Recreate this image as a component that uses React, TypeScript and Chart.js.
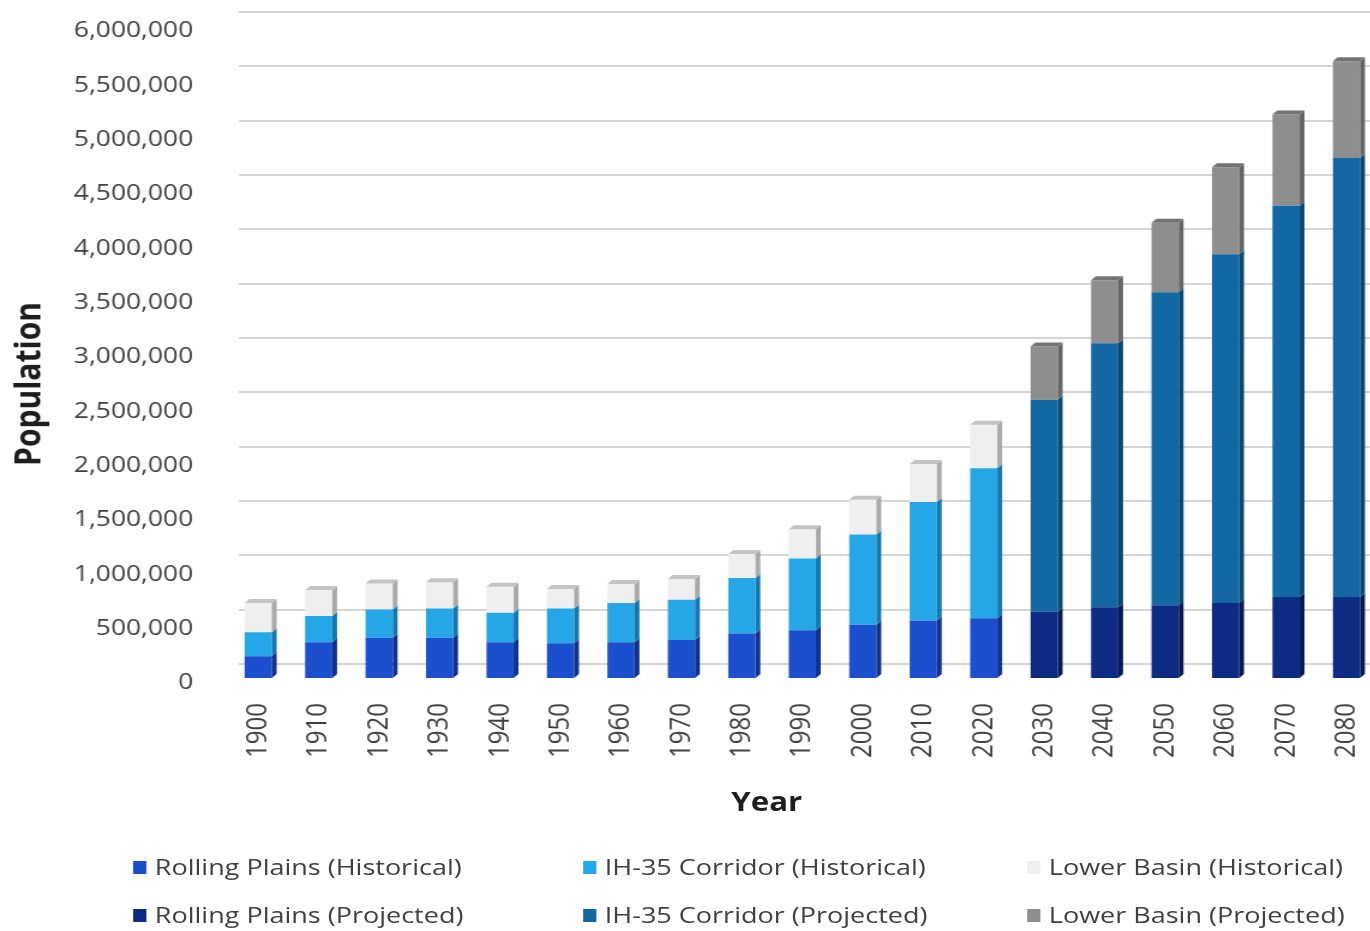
import React, { useEffect, useRef } from "react";
import { Chart, registerables } from "chart.js";

Chart.register(...registerables);

// Decades shown on the category axis
const years = [
  "1900", "1910", "1920", "1930", "1940", "1950", "1960", "1970", "1980", "1990",
  "2000", "2010", "2020", "2030", "2040", "2050", "2060", "2070", "2080",
];

// Census counts, 1900–2020
const rollingPlainsHistorical = [
  200000, 330000, 370000, 370000, 330000, 320000, 330000, 350000, 410000, 440000,
  490000, 530000, 550000,
];
const ih35Historical = [
  220000, 240000, 260000, 270000, 270000, 320000, 360000, 370000, 510000, 660000,
  830000, 1090000, 1380000,
];
const lowerBasinHistorical = [
  270000, 240000, 240000, 240000, 240000, 180000, 175000, 190000, 220000, 270000,
  320000, 350000, 400000,
];

// Projections, 2030–2080
const rollingPlainsProjected = [610000, 650000, 670000, 690000, 745000, 745000];
const ih35Projected = [1950000, 2430000, 2880000, 3210000, 3600000, 4040000];
const lowerBasinProjected = [490000, 580000, 640000, 800000, 840000, 890000];

const yTickStep = 500000;
const yMax = 6000000;

const FONT = "'Open Sans', 'Noto Sans', sans-serif";
const STRETCH = 1.2;
const CANVAS_W = 1176;
const CANVAS_H = 830;

const padSeries = (vals: number[], before: number, after: number) => [
  ...Array(before).fill(null),
  ...vals,
  ...Array(after).fill(null),
];

const histCount = rollingPlainsHistorical.length;
const projCount = rollingPlainsProjected.length;

const series = [
  { label: "Rolling Plains (Historical)", data: padSeries(rollingPlainsHistorical, 0, projCount), color: "#1b4fcd", side: "#10318c", cap: null },
  { label: "IH-35 Corridor (Historical)", data: padSeries(ih35Historical, 0, projCount), color: "#25a6e6", side: "#1677ad", cap: null },
  { label: "Lower Basin (Historical)", data: padSeries(lowerBasinHistorical, 0, projCount), color: "#efefef", side: "#a9a9a9", cap: "#c4c4c4" },
  { label: "Rolling Plains (Projected)", data: padSeries(rollingPlainsProjected, histCount, 0), color: "#0e2b83", side: "#081a55", cap: null },
  { label: "IH-35 Corridor (Projected)", data: padSeries(ih35Projected, histCount, 0), color: "#1368a3", side: "#0b4873", cap: null },
  { label: "Lower Basin (Projected)", data: padSeries(lowerBasinProjected, histCount, 0), color: "#8e8e8e", side: "#666666", cap: "#737373" },
];

// Back-wall gridlines and the side/top faces that give the columns depth
const depthPlugin = {
  id: "depth",
  beforeDatasetsDraw(chart: any) {
    const { ctx, chartArea, scales } = chart;
    const y = scales.y;
    ctx.save();
    ctx.strokeStyle = "#d6d6d6";
    ctx.lineWidth = 2;
    y.ticks.forEach((t: any) => {
      const py = Math.round(y.getPixelForValue(t.value) - 14);
      ctx.beginPath();
      ctx.moveTo(chartArea.left + 9, py);
      ctx.lineTo(chart.width, py);
      ctx.stroke();
    });
    ctx.restore();
  },
  afterDatasetsDraw(chart: any) {
    const ctx = chart.ctx;
    const dx = 4;
    const dy = 4;
    ctx.save();
    chart.data.datasets.forEach((ds: any, i: number) => {
      const meta = chart.getDatasetMeta(i);
      meta.data.forEach((bar: any, j: number) => {
        if (ds.data[j] == null) return;
        const { x, y, base, width } = bar.getProps(["x", "y", "base", "width"], true);
        const l = x - width / 2;
        const r = x + width / 2;
        ctx.fillStyle = ds.sideColor;
        ctx.beginPath();
        ctx.moveTo(r, y);
        ctx.lineTo(r + dx, y - dy);
        ctx.lineTo(r + dx, base - dy);
        ctx.lineTo(r, base);
        ctx.closePath();
        ctx.fill();
        if (ds.capColor) {
          ctx.fillStyle = ds.capColor;
          ctx.beginPath();
          ctx.moveTo(l, y);
          ctx.lineTo(l + dx, y - dy);
          ctx.lineTo(r + dx, y - dy);
          ctx.lineTo(r, y);
          ctx.closePath();
          ctx.fill();
        }
      });
    });
    ctx.restore();
  },
};

const legendCols = [111, 486, 856];
const legendRows = [867, 915];

export default function App() {
  const canvasRef = useRef<HTMLCanvasElement | null>(null);

  useEffect(() => {
    document.body.style.margin = "0";
    const canvas = canvasRef.current;
    if (!canvas) return;
    const chart = new Chart(canvas, {
      type: "bar",
      data: {
        labels: years,
        datasets: series.map((s) => ({
          label: s.label,
          data: s.data,
          backgroundColor: s.color,
          borderWidth: 0,
          sideColor: s.side,
          capColor: s.cap,
          barPercentage: 1,
          categoryPercentage: 0.45,
        })) as any,
      },
      options: {
        responsive: false,
        animation: false,
        devicePixelRatio: 1,
        layout: { padding: { left: 4, right: 4, top: 26, bottom: 0 } },
        plugins: {
          legend: { display: false },
          tooltip: { enabled: false },
        },
        scales: {
          x: {
            stacked: true,
            grid: { display: false, drawTicks: false },
            border: { display: false },
            afterFit: (scale: any) => {
              scale.height = 152;
            },
            ticks: {
              minRotation: 90,
              maxRotation: 90,
              padding: 25,
              color: "#404040",
              font: { family: FONT, size: 24 },
            },
          },
          y: {
            stacked: true,
            min: 0,
            max: yMax,
            grid: { display: false, drawTicks: false },
            border: { display: false },
            afterFit: (scale: any) => {
              scale.width = 186;
              scale.paddingTop = 0;
              scale.paddingBottom = 0;
            },
            ticks: {
              stepSize: yTickStep,
              padding: 29,
              labelOffset: 5,
              color: "#404040",
              font: { family: FONT, size: 22 },
              callback: (v: any) => Number(v).toLocaleString("en-US"),
            },
          },
        },
      },
      plugins: [depthPlugin],
    });
    return () => chart.destroy();
  }, []);

  return (
    <div style={{ position: "relative", width: 1370, height: 931, overflow: "hidden", background: "#fff" }}>
      <div
        style={{
          position: "absolute",
          left: 0,
          top: 0,
          width: CANVAS_W,
          height: 931,
          transform: `scaleX(${STRETCH})`,
          transformOrigin: "0 0",
          fontFamily: FONT,
        }}
      >
        <canvas ref={canvasRef} width={CANVAS_W} height={CANVAS_H} style={{ display: "block" }} />
        <div
          style={{
            position: "absolute",
            left: 23 - 100,
            top: 384 - 20,
            width: 200,
            height: 40,
            lineHeight: "40px",
            textAlign: "center",
            fontSize: 30,
            fontWeight: "bold",
            color: "#1e1e1e",
            transform: "rotate(-90deg)",
            transformOrigin: "50% 50%",
          }}
        >
          Population
        </div>
        <div
          style={{
            position: "absolute",
            left: 639 - 60,
            width: 120,
            top: 801 - 18,
            height: 36,
            lineHeight: "36px",
            textAlign: "center",
            fontSize: 26,
            fontWeight: "bold",
            color: "#1e1e1e",
          }}
        >
          Year
        </div>
        {series.map((s, i) => {
          const col = i % 3;
          const row = Math.floor(i / 3);
          return (
            <div
              key={s.label}
              style={{
                position: "absolute",
                left: legendCols[col],
                top: legendRows[row] - 16,
                height: 32,
                display: "flex",
                alignItems: "center",
                whiteSpace: "nowrap",
              }}
            >
              <span style={{ display: "inline-block", width: 11, height: 13, background: s.color, marginRight: 7 }} />
              <span style={{ fontSize: 22.5, color: "#404040", lineHeight: "32px" }}>{s.label}</span>
            </div>
          );
        })}
      </div>
    </div>
  );
}
